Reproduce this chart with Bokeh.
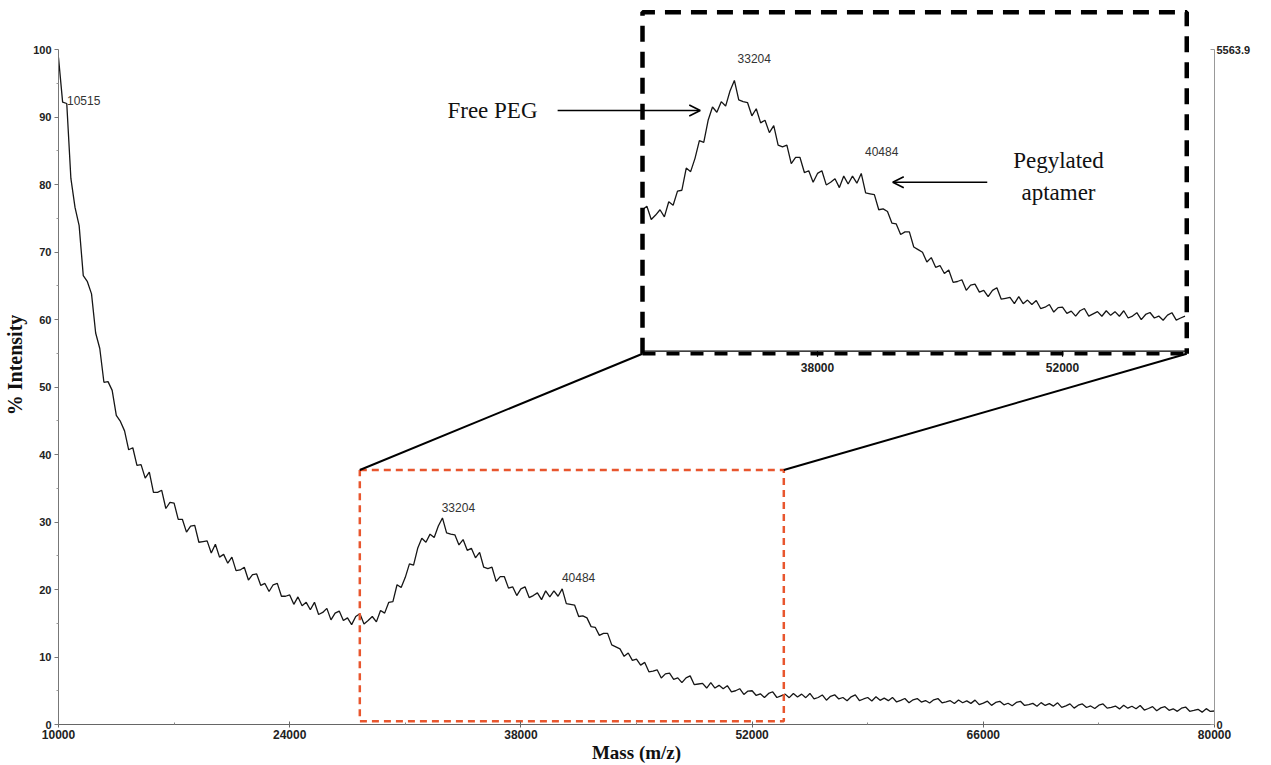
from bokeh.plotting import figure
from bokeh.models import Range1d, LinearAxis, FixedTicker, Arrow, OpenHead
from bokeh.core.properties import value
from bokeh.embed import file_html
from bokeh.resources import INLINE

# ---------------- data ----------------
mass_start = 10000
mass_step = 250
intensity = [
    98.8, 92.2, 92.0, 80.9,          # 10000
    76.6, 73.9, 66.5, 65.6,          # 11000
    63.8, 58.0, 55.7, 50.7,          # 12000
    50.8, 49.5, 45.8, 44.9,          # 13000
    43.5, 40.7, 41.0, 38.4,          # 14000
    38.5, 36.5, 37.4, 34.4,          # 15000
    34.4, 34.7, 32.0, 32.9,          # 16000
    32.8, 30.4, 30.4, 28.5,          # 17000
    29.4, 29.5, 27.0, 27.1,          # 18000
    27.2, 25.4, 26.7, 24.8,          # 19000
    25.2, 23.9, 24.8, 22.8,          # 20000
    22.9, 23.3, 21.4, 22.2,          # 21000
    22.3, 20.6, 20.9, 19.7,          # 22000
    20.7, 20.9, 19.0, 19.0,          # 23000
    19.2, 17.8, 18.9, 17.6,          # 24000
    18.1, 17.0, 18.1, 16.3,          # 25000
    16.6, 17.2, 15.5, 16.5,          # 26000
    16.8, 15.4, 15.8, 14.8,          # 27000
    16.0, 16.4, 14.9, 15.4,          # 28000
    16.0, 15.2, 16.9, 16.5,          # 29000
    18.1, 18.2, 20.7, 20.3,          # 30000
    21.8, 23.8, 23.6, 26.1,          # 31000
    27.6, 27.0, 28.2, 27.7,          # 32000
    29.4, 30.6, 28.4, 28.2,          # 33000
    28.1, 26.6, 27.4, 25.8,          # 34000
    26.1, 24.7, 25.5, 23.3,          # 35000
    23.1, 23.3, 21.2, 21.9,          # 36000
    21.9, 20.2, 20.4, 19.1,          # 37000
    20.1, 20.4, 18.8, 19.1,          # 38000
    19.5, 18.5, 19.8, 18.9,          # 39000
    19.8, 19.0, 20.1, 17.9,          # 40000
    17.8, 17.7, 16.0, 16.1,          # 41000
    15.8, 14.5, 14.4, 13.2,          # 42000
    13.5, 13.5, 11.8, 11.5,          # 43000
    11.2, 10.1, 10.6, 9.5,           # 44000
    9.7, 8.8, 9.2, 7.8,              # 45000
    7.9, 8.1, 6.9, 7.5,              # 46000
    7.6, 6.7, 6.9, 6.2,              # 47000
    6.9, 7.2, 5.9, 6.0,              # 48000
    6.1, 5.4, 6.2, 5.4,              # 49000
    5.8, 5.3, 5.75, 4.85,            # 50000
    5.0, 5.3, 4.45, 4.95,            # 51000
    5.0, 4.3, 4.55, 4.0,             # 52000
    4.6, 4.85, 4.0, 4.25,            # 53000
    4.5, 3.98, 4.6, 4.08,            # 54000
    4.5, 3.98, 4.6, 3.78,            # 55000
    4.0, 4.38, 3.6, 4.18,            # 56000
    4.4, 3.78, 4.0, 3.53,            # 57000
    4.1, 4.38, 3.55, 3.78,           # 58000
    4.0, 3.48, 4.1, 3.58,            # 59000
    3.9, 3.53, 4.01, 3.34,           # 60000
    3.57, 3.85, 3.23, 3.66,          # 61000
    3.84, 3.32, 3.55, 3.18,          # 62000
    3.66, 3.84, 3.22, 3.35,          # 63000
    3.53, 3.11, 3.64, 3.22,          # 64000
    3.5, 3.13, 3.61, 2.94,           # 65000
    3.17, 3.45, 2.83, 3.26,          # 66000
    3.44, 2.92, 3.15, 2.78,          # 67000
    3.26, 3.44, 2.82, 2.95,          # 68000
    3.13, 2.71, 3.24, 2.82,          # 69000
    3.1, 2.73, 3.21, 2.54,           # 70000
    2.77, 3.05, 2.43, 2.86,          # 71000
    3.04, 2.52, 2.75, 2.38,          # 72000
    2.86, 3.04, 2.42, 2.55,          # 73000
    2.73, 2.31, 2.84, 2.42,          # 74000
    2.7, 2.33, 2.81, 2.14,           # 75000
    2.37, 2.65, 2.03, 2.46,          # 76000
    2.63, 2.1, 2.33, 1.95,           # 77000
    2.42, 2.59, 1.96, 2.08,          # 78000
    2.25, 1.83, 2.35, 1.93,          # 79000
    2.0,                             # 80000
]
mass = [mass_start + i * mass_step for i in range(len(intensity))]

x_ticks = [10000, 24000, 38000, 52000, 66000, 80000]
x_minor_ticks = [17000, 31000, 45000, 59000, 73000]
y_ticks = [0, 10, 20, 30, 40, 50, 60, 70, 80, 90, 100]
y_minor_ticks = [5, 15, 25, 35, 45, 55, 65, 75, 85, 95]
right_axis_max = 5563.9
peak_masses = [10515, 33204, 40484]
inset_peak_masses = [33204, 40484]
inset_ticks = [38000, 52000]
zoom_box = [28245, 53920, 0.5, 37.7]      # orange box: x0, x1, y0, y1 (main units)
inset_window = [28000, 59100]              # mass span shown in the inset

# ---------------- layout (pixels) ----------------
W, H = 1271, 765
FL, FR, FT, FB = 58, 1214, 5, 724
X0, X1 = 10000, 80000
Y_MAX = (FB - FT) * 100.0 / 675.0          # 100 % spans 675 px
# inset scales: 17.5 px per 1000 Da with 38000 at px 817, 0 % at py 351, 8.86 px per %
IX_PX_PER, IX_ANCHOR, IX_ANCHOR_PX = 17.5 / 1000.0, 38000, 817
IY_ZERO_PX, IY_PX_PER = 351, 8.86
IXS = IX_ANCHOR - (IX_ANCHOR_PX - FL) / IX_PX_PER
IXE = IX_ANCHOR + (FR - IX_ANCHOR_PX) / IX_PX_PER
IYS = -(FB - IY_ZERO_PX) / IY_PX_PER
IYE = (IY_ZERO_PX - FT) / IY_PX_PER


def inset_to_main(ix, iy):
    mx = X0 + (ix - IXS) / (IXE - IXS) * (X1 - X0)
    my = 0 + (iy - IYS) / (IYE - IYS) * Y_MAX
    return mx, my


p = figure(width=W, height=H, x_range=Range1d(X0, X1), y_range=Range1d(0, Y_MAX),
           output_backend="svg", toolbar_location=None,
           min_border_left=FL, min_border_right=W - FR,
           min_border_top=FT, min_border_bottom=H - FB)
p.xgrid.visible = False
p.ygrid.visible = False
p.outline_line_color = None
p.background_fill_color = "white"
p.border_fill_color = "white"

p.extra_x_ranges["inset"] = Range1d(IXS, IXE)
p.extra_y_ranges["inset_y"] = Range1d(IYS, IYE)
p.extra_y_ranges["counts"] = Range1d(0, right_axis_max * Y_MAX / 100.0)

# axes
xa = p.xaxis[0]
xa.ticker = FixedTicker(ticks=x_ticks, minor_ticks=x_minor_ticks)
xa.axis_label = "Mass (m/z)"
xa.axis_label_text_font = "Liberation Serif"
xa.axis_label_text_font_style = "bold"
xa.axis_label_text_font_size = "19px"
xa.axis_label_text_color = "#111111"
xa.axis_label_standoff = 0
xa.major_label_text_font = "Liberation Sans"
xa.major_label_text_font_style = "bold"
xa.major_label_text_font_size = "12px"
xa.major_label_text_color = "#222222"
xa.major_label_standoff = 2
xa.major_tick_in = 3
xa.major_tick_out = 3
xa.minor_tick_in = 2
xa.minor_tick_out = 0
xa.axis_line_color = "#666666"
xa.major_tick_line_color = "#666666"
xa.minor_tick_line_color = "#888888"

ya = p.yaxis[0]
ya.ticker = FixedTicker(ticks=y_ticks, minor_ticks=y_minor_ticks)
ya.bounds = (0, 100)
ya.axis_label = "% Intensity"
ya.axis_label_text_font = "Liberation Serif"
ya.axis_label_text_font_style = "bold"
ya.axis_label_text_font_size = "20px"
ya.axis_label_text_color = "#111111"
ya.axis_label_standoff = 4
ya.major_label_text_font = "Liberation Sans"
ya.major_label_text_font_style = "bold"
ya.major_label_text_font_size = "11px"
ya.major_label_text_color = "#222222"
ya.major_label_standoff = 3
ya.major_tick_in = 0
ya.major_tick_out = 4
ya.minor_tick_in = 0
ya.minor_tick_out = 2
ya.axis_line_color = "#777777"
ya.major_tick_line_color = "#777777"
ya.minor_tick_line_color = "#999999"

ra = LinearAxis(y_range_name="counts", ticker=FixedTicker(ticks=[0, right_axis_max]),
                bounds=(0, right_axis_max),
                major_label_overrides={0: "0", right_axis_max: "5563.9"})
ra.major_label_text_font = "Liberation Sans"
ra.major_label_text_font_style = "bold"
ra.major_label_text_font_size = "11px"
ra.major_label_text_color = "#222222"
ra.major_label_standoff = 2
ra.major_tick_in = 4
ra.major_tick_out = 0
ra.minor_tick_line_color = None
ra.axis_line_color = "#999999"
ra.major_tick_line_color = "#999999"
p.add_layout(ra, "right")

# main spectrum
p.line(mass, intensity, line_color="#161616", line_width=1.3)

# peak labels (main)
p.text(x=peak_masses, y=[92.4, 32.1, 21.8], text=[str(m) for m in peak_masses],
       text_font=value("Liberation Sans"), text_font_size="12px", text_color="#333333",
       text_align="left", text_baseline="middle")

# orange zoom box
bx0, bx1, by0, by1 = zoom_box
p.line([bx0, bx1, bx1, bx0, bx0], [by1, by1, by0, by0, by1], line_color="#e8562e",
       line_width=2.5, line_dash="7 5")

# inset spectrum
inset_mass = [m for m in mass if inset_window[0] <= m <= inset_window[1]]
inset_int = [v for m, v in zip(mass, intensity) if inset_window[0] <= m <= inset_window[1]]
p.line(inset_mass, inset_int, line_color="#161616", line_width=1.3,
       x_range_name="inset", y_range_name="inset_y")

# inset frame (dashed black)
ix0, ix1 = inset_window
iy0, iy1 = -0.25, 38.3
p.line([ix0, ix0, ix1, ix1], [iy0, iy1, iy1, iy0], line_color="black", line_width=4.5,
       line_dash="16 10", x_range_name="inset", y_range_name="inset_y")
p.line([ix0, ix1], [iy0, iy0], line_color="black", line_width=3.5, line_dash="13 11",
       x_range_name="inset", y_range_name="inset_y")
# inset axis line + ticks + labels
p.line([ix0, ix1], [0.05, 0.05], line_color="black", line_width=1.3,
       x_range_name="inset", y_range_name="inset_y")
p.segment(x0=inset_ticks, y0=[0.05] * len(inset_ticks), x1=inset_ticks, y1=[-0.6] * len(inset_ticks),
          line_color="black", line_width=1.2, x_range_name="inset", y_range_name="inset_y")
p.text(x=inset_ticks, y=[-1.75] * len(inset_ticks), text=[str(t) for t in inset_ticks],
       text_font=value("Liberation Sans"), text_font_style="bold", text_font_size="12px",
       text_color="#222222", text_align="center", text_baseline="middle",
       x_range_name="inset", y_range_name="inset_y")
# inset peak labels
p.text(x=inset_peak_masses, y=[33.1, 22.6], text=[str(m) for m in inset_peak_masses],
       x_offset=4, text_font=value("Liberation Sans"), text_font_size="12px",
       text_color="#333333", text_align="left", text_baseline="middle",
       x_range_name="inset", y_range_name="inset_y")

# connector lines from orange box to inset
cl = inset_to_main(ix0, iy0)
cr = inset_to_main(ix1, iy0)
p.segment(x0=[bx0, bx1], y0=[by1, by1], x1=[cl[0], cr[0]], y1=[cl[1], cr[1]],
          line_color="black", line_width=2)

# annotations (inset coordinates)
p.add_layout(Arrow(end=OpenHead(size=11, line_width=1.6, line_color="black"),
                   x_start=23150, y_start=27.2, x_end=31300, y_end=27.2,
                   line_width=1.6, line_color="black",
                   x_range_name="inset", y_range_name="inset_y"))
p.add_layout(Arrow(end=OpenHead(size=11, line_width=1.6, line_color="black"),
                   x_start=47700, y_start=19.1, x_end=42300, y_end=19.1,
                   line_width=1.6, line_color="black",
                   x_range_name="inset", y_range_name="inset_y"))
p.text(x=[22000], y=[27.2], text=["Free PEG"], text_font=value("Liberation Serif"),
       text_font_size="23px", text_color="#111111", text_align="right", text_baseline="middle",
       x_range_name="inset", y_range_name="inset_y")
p.text(x=[51770, 51770], y=[21.6, 17.9], text=["Pegylated", "aptamer"],
       text_font=value("Liberation Serif"), text_font_size="23px", text_color="#111111",
       text_align="center", text_baseline="middle",
       x_range_name="inset", y_range_name="inset_y")

open("out.html", "w").write(file_html(p, INLINE))
